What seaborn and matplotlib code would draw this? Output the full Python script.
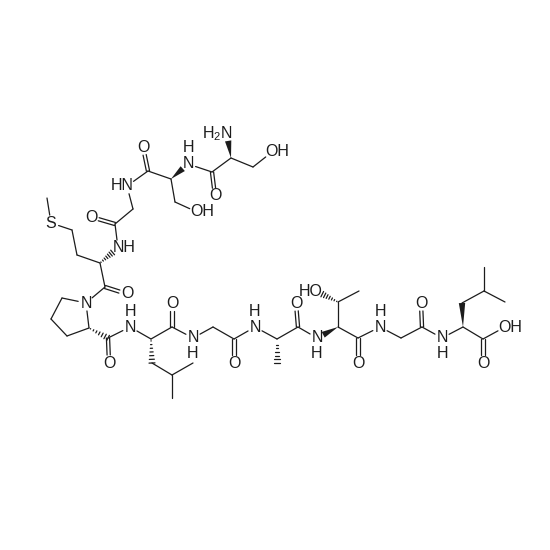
import matplotlib.pyplot as plt
import numpy as np
import pandas as pd
import seaborn as sns

sns.set_theme(style="white")
plt.rcParams["font.family"] = ["Liberation Sans", "DejaVu Sans"]
plt.rcParams["mathtext.default"] = "regular"

ink = "#1c1c1c"

# atom name, x, y (pixels)
atom_names = [
    "n1", "ca1", "cb1", "og1", "c1", "o1",
    "n2", "ca2", "cb2", "og2", "c2", "o2",
    "n3", "ca3", "c3", "o3",
    "n4", "ca4", "cb4", "cg4", "sd4", "ce4", "c4", "o4",
    "n5", "cd5", "cg5", "cb5", "ca5", "c5", "o5",
    "n6", "ca6", "c6", "o6", "cb6", "cg6", "cd61", "cd62",
    "n7", "ca7", "c7", "o7",
    "n8", "ca8", "cb8", "c8", "o8",
    "n9", "ca9", "cb9", "og9", "cg9", "c9", "o9",
    "n10", "ca10", "c10", "o10",
    "n11", "ca11", "cb11", "cg11", "cd111", "cd112", "c11", "o11", "oh11",
]
atom_x = [
    227, 231, 253, 272, 212, 215,
    188, 171, 175, 197, 148, 143,
    127, 133, 115, 91,
    118, 100, 77, 72, 51, 47, 105, 127,
    86, 62, 51, 67, 89, 108, 109,
    130, 151, 172, 172, 152, 172, 193, 172,
    193, 213, 234, 234,
    255, 277, 277, 298, 296,
    317, 338, 338, 316, 359, 358, 358,
    380, 401, 422, 421,
    442, 463, 462, 484, 484, 505, 483, 483, 505,
]
atom_y = [
    134, 158, 167, 152, 172, 196,
    164, 179, 202, 212, 171, 147,
    186, 209, 224, 217,
    248, 263, 255, 230, 223, 198, 287, 294,
    303, 298, 319, 336, 328, 338, 363,
    327, 339, 327, 303, 363, 375, 363, 398,
    338, 327, 339, 363,
    327, 339, 363, 327, 303,
    338, 327, 302, 291, 291, 338, 363,
    327, 338, 327, 303,
    338, 327, 303, 291, 267, 302, 339, 363, 327,
]

single_bonds = [
    ("ca1", "cb1"), ("cb1", "og1"), ("ca1", "c1"), ("c1", "n2"),
    ("ca2", "cb2"), ("cb2", "og2"), ("ca2", "c2"), ("c2", "n3"), ("n3", "ca3"),
    ("ca3", "c3"), ("c3", "n4"), ("ca4", "cb4"), ("cb4", "cg4"), ("cg4", "sd4"),
    ("sd4", "ce4"), ("ca4", "c4"), ("c4", "n5"), ("n5", "cd5"), ("cd5", "cg5"),
    ("cg5", "cb5"), ("cb5", "ca5"), ("ca5", "n5"), ("c5", "n6"), ("n6", "ca6"),
    ("ca6", "c6"), ("cb6", "cg6"), ("cg6", "cd61"), ("cg6", "cd62"), ("c6", "n7"),
    ("n7", "ca7"), ("ca7", "c7"), ("c7", "n8"), ("n8", "ca8"), ("ca8", "c8"),
    ("c8", "n9"), ("ca9", "cb9"), ("cb9", "cg9"), ("ca9", "c9"), ("c9", "n10"),
    ("n10", "ca10"), ("ca10", "c10"), ("c10", "n11"), ("n11", "ca11"), ("cb11", "cg11"),
    ("cg11", "cd111"), ("cg11", "cd112"), ("ca11", "c11"), ("c11", "oh11"),
]
double_bonds = [
    ("c1", "o1"), ("c2", "o2"), ("c3", "o3"), ("c4", "o4"), ("c5", "o5"), ("c6", "o6"),
    ("c7", "o7"), ("c8", "o8"), ("c9", "o9"), ("c10", "o10"), ("c11", "o11"),
]
wedge_bonds = [("ca1", "n1"), ("ca2", "n2"), ("ca9", "n9"), ("ca11", "cb11")]
hash_bonds = [
    ("ca4", "n4"), ("ca5", "c5"), ("ca6", "cb6"), ("ca8", "cb8"), ("cb9", "og9"),
]

label_text = [
    "$H_2N$", "OH", "O", "N", "H", "OH", "O", "HN", "O", "NH", "S", "O", "N", "O",
    "N", "H", "O", "N", "H", "O", "N", "H", "O", "N", "H", "HO", "O", "N", "H", "O",
    "N", "H", "O", "OH",
]
label_x = [
    217, 277, 215, 188, 188, 202, 143, 122, 91, 124, 51, 127, 86, 109,
    130, 130, 172, 193, 193, 234, 255, 255, 296, 317, 317, 311, 358, 380, 380, 421,
    442, 442, 483, 510,
]
label_y = [
    134, 152, 196, 164, 148, 212, 147, 186, 217, 248, 223, 294, 303, 363,
    327, 312, 303, 338, 353, 363, 327, 312, 303, 338, 353, 291, 363, 327, 312, 303,
    338, 353, 363, 327,
]

pos = pd.DataFrame({"x": atom_x, "y": atom_y}, index=atom_names)
is_hetero = {n: n[0] in "nos" for n in atom_names}


def bond_ends(a, b, gap=8.0):
    p, q = pos.loc[a].to_numpy(float), pos.loc[b].to_numpy(float)
    u = (q - p) / np.linalg.norm(q - p)
    if is_hetero[a]:
        p = p + u * gap
    if is_hetero[b]:
        q = q - u * gap
    return p, q, u


segments = []


def add_segment(p, q):
    k = len(segments) // 2
    segments.append({"seg": k, "x": p[0], "y": p[1]})
    segments.append({"seg": k, "x": q[0], "y": q[1]})


for a, b in single_bonds:
    p, q, _ = bond_ends(a, b)
    add_segment(p, q)

for a, b in double_bonds:
    p, q, u = bond_ends(a, b)
    n = np.array([-u[1], u[0]]) * 1.6
    add_segment(p + n, q + n)
    add_segment(p - n, q - n)

for a, b in hash_bonds:
    p, q, u = bond_ends(a, b, gap=7.0)
    n = np.array([-u[1], u[0]])
    length = np.linalg.norm(q - p)
    for t in np.linspace(0.08, 1.0, 7):
        half = 3.0 * t
        c = p + u * length * t
        add_segment(c - n * half, c + n * half)

fig, ax = plt.subplots(figsize=(5.5, 5.5), dpi=100)
fig.subplots_adjust(left=0, right=1, bottom=0, top=1)

sns.lineplot(
    data=pd.DataFrame(segments),
    x="x",
    y="y",
    units="seg",
    estimator=None,
    sort=False,
    color=ink,
    linewidth=0.9,
    ax=ax,
)

for a, b in wedge_bonds:
    p, q, u = bond_ends(a, b, gap=7.0)
    n = np.array([-u[1], u[0]]) * 3.2
    tri = np.array([p, q + n, q - n])
    ax.fill(tri[:, 0], tri[:, 1], color=ink, linewidth=0)

for text, x, y in zip(label_text, label_x, label_y):
    ax.text(x, y, text, ha="center", va="center", fontsize=11.5, color=ink)

ax.set_xlim(0, 550)
ax.set_ylim(550, 0)
ax.set_axis_off()

plt.savefig("out.png", dpi=100)
